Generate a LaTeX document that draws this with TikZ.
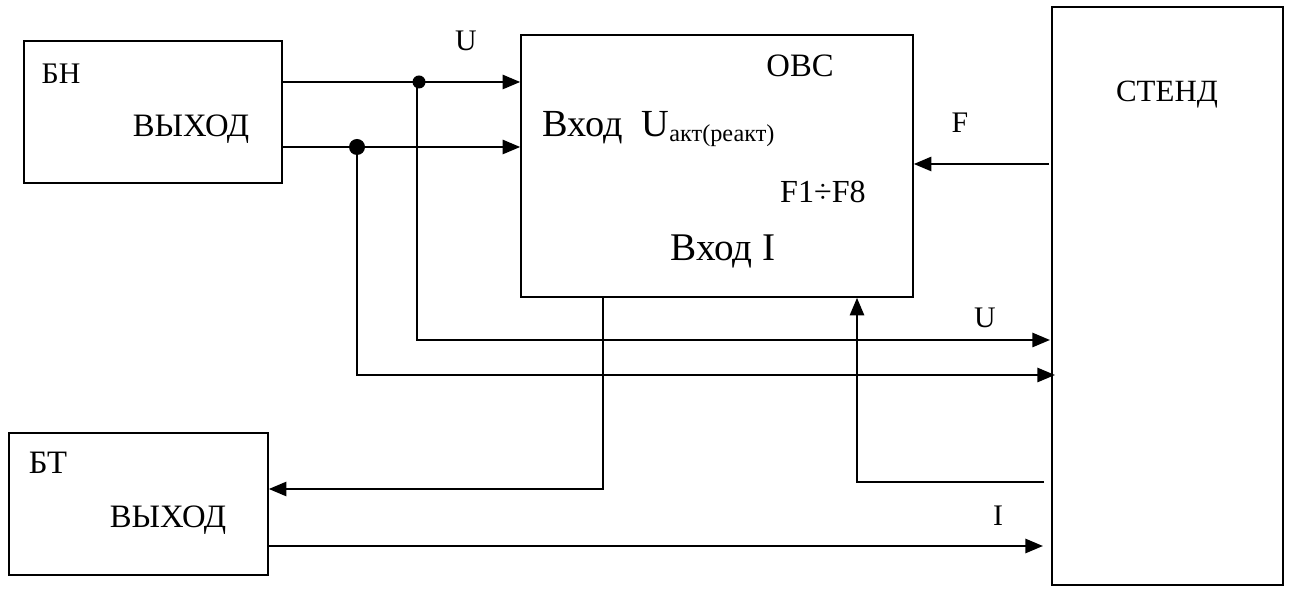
\documentclass[tikz,border=0pt]{standalone}
\usepackage{fontspec}
\setmainfont{Liberation Serif}
\usetikzlibrary{arrows.meta}

\tikzset{
  block/.style={draw, line width=0.9pt, inner sep=0pt},
  conn/.style={line width=1.4pt},
  arr/.style={conn, -{Triangle[length=10pt,width=8pt]}},
  lbl/.style={inner sep=0pt, font=\fontsize{17}{20}\selectfont},
  biglbl/.style={inner sep=0pt, font=\fontsize{21.8}{25}\selectfont}
}

\begin{document}
\begin{tikzpicture}[x=0.02cm, y=-0.02cm]

\useasboundingbox (0,0) rectangle (1291,590);

% blocks
\node[block, minimum width=5.16cm, minimum height=2.84cm] (bn) at (153,112) {};
\node[block, minimum width=7.84cm, minimum height=5.24cm] (obc) at (717,166) {};
\node[block, minimum width=5.18cm, minimum height=2.84cm] (bt) at (138.5,504) {};
\node[block, minimum width=4.62cm, minimum height=11.56cm] (stend) at (1167.5,296) {};

% texts inside blocks
\node[lbl] (bnname) at (61,74) {БН};
\node[lbl, font=\fontsize{18.6}{22}\selectfont] (bnout) at (191,129) {ВЫХОД};
\node[lbl, font=\fontsize{18.6}{22}\selectfont] (btname) at (48,463) {БТ};
\node[lbl, font=\fontsize{18.6}{22}\selectfont] (btout) at (168,520) {ВЫХОД};
\node[lbl, font=\fontsize{18.6}{22}\selectfont] (obcname) at (800,66) {ОВС};
\node[biglbl, anchor=base west] (obcin) at (542,137)
  {Вход\ \ U\raisebox{-2.8pt}{\fontsize{13.8}{16}\selectfont акт(реакт)}};
\node[lbl, font=\fontsize{18.3}{21}\selectfont] (obcf) at (823,192) {F1÷F8};
\node[biglbl, font=\fontsize{22.3}{26}\selectfont] (obci) at (723,251) {Вход I};
\node[lbl, font=\fontsize{17.6}{21}\selectfont] (stendname) at (1167,95) {СТЕНД};

% junctions and bends
\coordinate (j1) at (419,82);
\coordinate (j2) at (357,147);
\coordinate (u2) at (417,340);
\coordinate (u3) at (357,375);
\coordinate (ib) at (603,489);
\coordinate (fb) at (857,482);

% voltage lines
\draw[arr] (bn.east |- j1) -- (obc.west |- j1);
\draw[arr] (bn.east |- j2) -- (obc.west |- j2);
\draw[arr] (j1 -| u2) -- (u2) -- (1050,340);
\draw[arr] (j2) -- (u3) -- (1055,375);
\fill (j1) circle (6.5);
\fill (j2) circle (8);

% current lines
\draw[arr] (obc.south -| ib) -- (ib) -- (bt.east |- ib);
\draw[arr] (bt.east |- 0,546) -- (1043,546);

% force lines
\draw[arr] (1049,164) -- (obc.east |- 0,164);
\draw[arr] (1044,482) -- (fb) -- (obc.south -| fb);

% signal labels
\node[lbl] (lu1) at (466,41) {U};
\node[lbl] (lu2) at (985,318) {U};
\node[lbl] (lf) at (960,123) {F};
\node[lbl] (li) at (998,516) {I};

\end{tikzpicture}
\end{document}
